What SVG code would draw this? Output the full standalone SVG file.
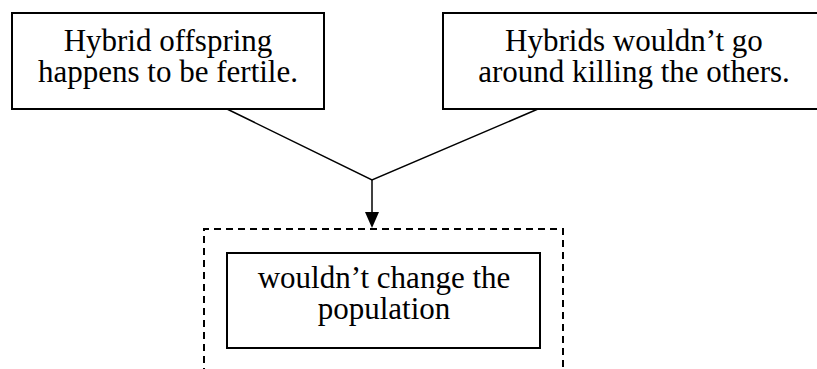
<svg xmlns="http://www.w3.org/2000/svg" width="817" height="369" viewBox="0 0 817 369">
<defs>
<style>
.box{fill:#fff;stroke:#000;stroke-width:2}
.t{font-family:"Liberation Serif","Times New Roman",serif;font-size:31px;fill:#000;text-anchor:middle}
.c{fill:none;stroke:#000;stroke-width:1.5}
.d{fill:none;stroke:#000;stroke-width:2;stroke-dasharray:7 5}
</style>
</defs>
<rect width="817" height="369" fill="#fff"/>
<g id="n1">
<rect class="box" x="12" y="13" width="312" height="96"/>
<text class="t" x="168" y="51">Hybrid offspring</text>
<text class="t" x="168" y="82">happens to be fertile.</text>
</g>
<g id="n2">
<rect class="box" x="443" y="13" width="382" height="96"/>
<text class="t" x="634" y="51">Hybrids wouldn’t go</text>
<text class="t" x="634" y="82">around killing the others.</text>
</g>
<g id="connectors">
<polyline class="c" points="227,109 372,180 538,109"/>
<line class="c" x1="372" y1="180" x2="372" y2="212"/>
<path d="M365,212 L379,212 L372,228 Z" fill="#000"/>
</g>
<g id="group">
<path class="d" d="M204,375 V229 H563 V375"/>
</g>
<g id="n3">
<rect class="box" x="227" y="253" width="313" height="95"/>
<text class="t" x="384" y="288">wouldn’t change the</text>
<text class="t" x="384" y="319">population</text>
</g>
</svg>
